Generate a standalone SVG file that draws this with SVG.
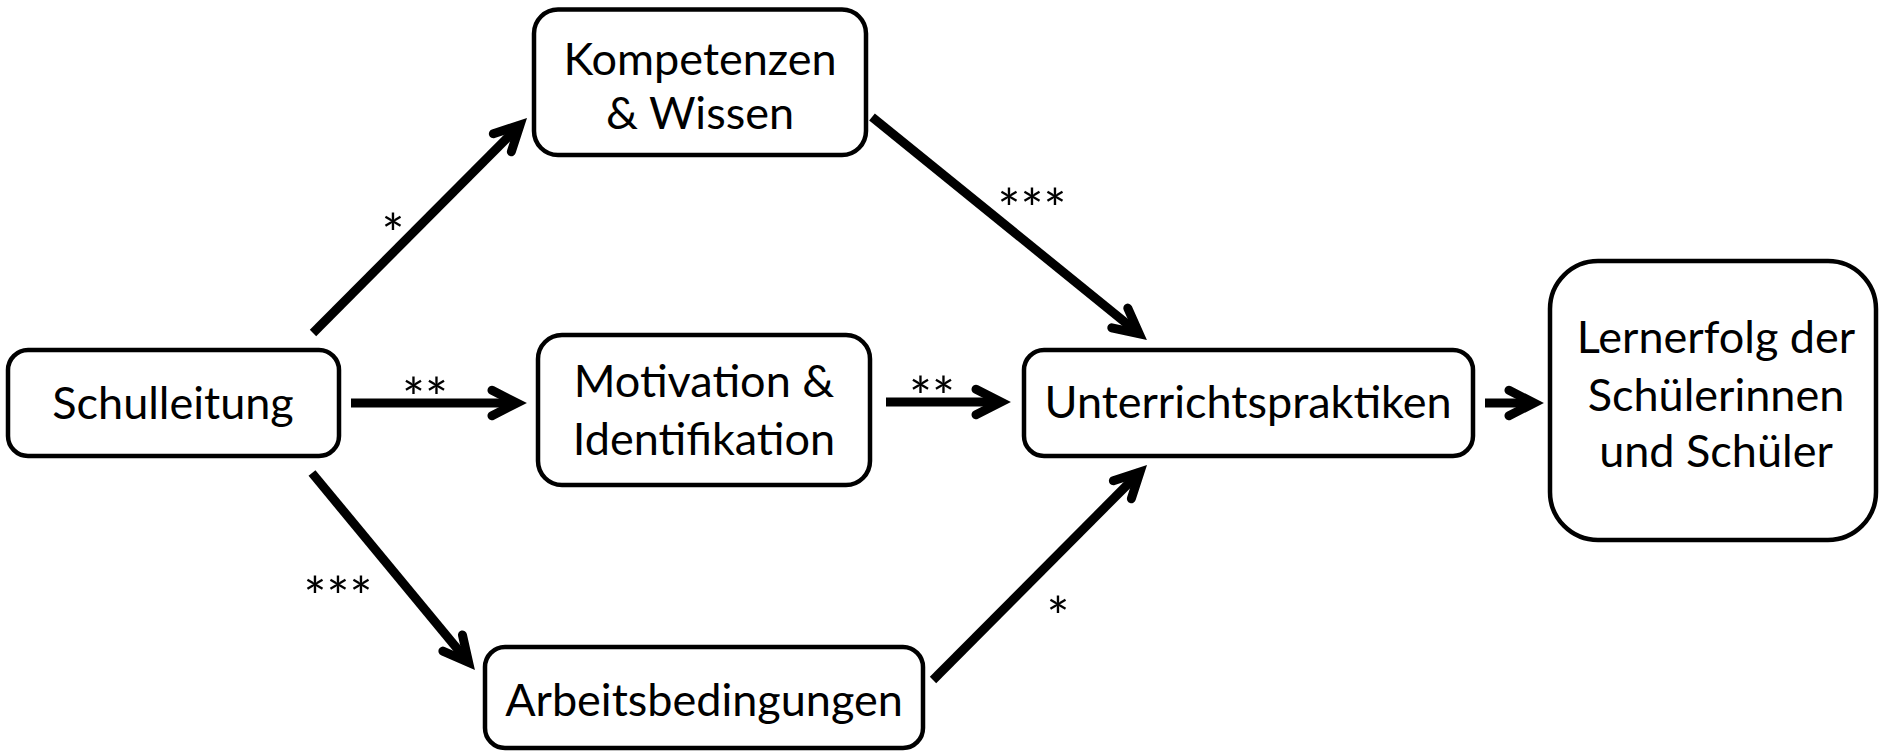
<svg xmlns="http://www.w3.org/2000/svg" width="1879" height="752" viewBox="0 0 1879 752">
  <style>
    .box { fill: #ffffff; stroke: #000000; stroke-width: 4.5; }
    .lbl { font-family: Lato, "Liberation Sans", sans-serif; font-size: 45px; fill: #000000; text-anchor: middle; }
    .sig { font-family: Lato, "Liberation Sans", sans-serif; font-size: 54px; fill: #000000; text-anchor: middle; }
    .edge { stroke: #000000; stroke-width: 9; fill: none; stroke-linecap: butt; marker-end: url(#chev); }
  </style>
  <defs>
    <marker id="chev" markerUnits="userSpaceOnUse" orient="auto" refX="0" refY="0" markerWidth="80" markerHeight="80" viewBox="-40 -40 80 80" overflow="visible">
      <path d="M -25 -12.7 L 0 0 L -25 12.7" fill="none" stroke="#000000" stroke-width="9" stroke-linecap="round" stroke-linejoin="miter"/>
    </marker>
  </defs>
  <rect width="1879" height="752" fill="#ffffff"/>

  <!-- connectors with significance marks -->
  <g id="connectors">
    <line class="edge" x1="313" y1="333" x2="520" y2="125"/>
    <line class="edge" x1="351" y1="403" x2="517" y2="403"/>
    <line class="edge" x1="312" y1="473" x2="468.6" y2="662.3"/>
    <line class="edge" x1="872" y1="117" x2="1139.2" y2="333.7"/>
    <line class="edge" x1="886" y1="402" x2="1001" y2="402"/>
    <line class="edge" x1="933" y1="680" x2="1140" y2="472"/>
    <line class="edge" x1="1485" y1="403" x2="1534" y2="403"/>
    <text class="sig" x="393" y="253">*</text>
    <text class="sig" x="425" y="417">**</text>
    <text class="sig" x="338" y="616">***</text>
    <text class="sig" x="1032" y="228">***</text>
    <text class="sig" x="932" y="416">**</text>
    <text class="sig" x="1058" y="636">*</text>
  </g>

  <g id="schulleitung">
    <rect class="box" x="8" y="350" width="331" height="106" rx="20"/>
    <text class="lbl" x="173" y="419">Schulleitung</text>
  </g>

  <g id="kompetenzen">
    <rect class="box" x="534" y="9.5" width="332" height="145.5" rx="24"/>
    <text class="lbl" x="700" y="75">Kompetenzen</text>
    <text class="lbl" x="700" y="129">&amp; Wissen</text>
  </g>

  <g id="motivation">
    <rect class="box" x="538" y="335" width="332" height="150" rx="24"/>
    <text class="lbl" x="704" y="397">Motivation &amp;</text>
    <text class="lbl" x="704" y="455">Identifikation</text>
  </g>

  <g id="arbeitsbedingungen">
    <rect class="box" x="485" y="647" width="438" height="101" rx="20"/>
    <text class="lbl" x="704" y="716">Arbeitsbedingungen</text>
  </g>

  <g id="unterrichtspraktiken">
    <rect class="box" x="1024" y="350" width="449" height="106" rx="20"/>
    <text class="lbl" x="1248" y="418">Unterrichtspraktiken</text>
  </g>

  <g id="lernerfolg">
    <rect class="box" x="1550" y="261" width="326" height="279" rx="48"/>
    <text class="lbl" x="1716" y="353">Lernerfolg der</text>
    <text class="lbl" x="1716" y="411">Schülerinnen</text>
    <text class="lbl" x="1716" y="467">und Schüler</text>
  </g>
</svg>
